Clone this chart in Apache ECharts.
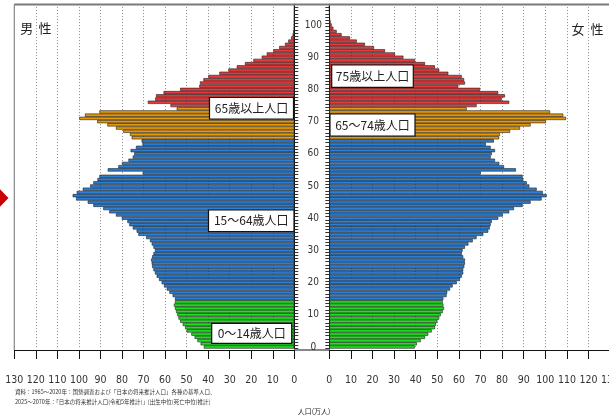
<!DOCTYPE html>
<html>
<head>
<meta charset="utf-8">
<script src="https://cdn.jsdelivr.net/npm/echarts@6/dist/echarts.min.js"></script>
<style>
  html, body { margin: 0; padding: 0; background: #fff; }
  #chart { width: 609px; height: 419px; }
</style>
</head>
<body>
<div id="chart"></div>
<script>
// 年齢 0〜106歳
const ages = []
for (let a = 0; a <= 106; a++) ages.push(String(a))

// 男性 (万人)
const male = [
  42.0, 43.5, 45.0, 46.3, 47.8, 50.0, 50.7, 51.8, 53.0, 53.8,
  54.3, 54.9, 55.4, 55.9, 55.4, 55.4, 56.5, 58.0, 59.2, 60.5,
  61.6, 62.8, 63.9, 64.7, 65.4, 66.0, 66.2, 66.5, 66.0, 65.4,
  64.7, 65.4, 66.2, 67.0, 68.8, 72.4, 73.2, 75.0, 76.6, 77.5,
  80.1, 82.8, 85.9, 88.7, 93.3, 95.9, 101.3, 102.9, 101.0, 98.2,
  94.8, 93.3, 91.4, 90.5, 70.4, 86.6, 81.7, 80.0, 77.0, 75.0,
  74.3, 76.0, 73.5, 70.5, 70.9, 75.5, 76.3, 79.4, 82.8, 86.8,
  91.5, 99.8, 97.2, 90.5, 54.6, 57.5, 68.0, 64.6, 64.2, 60.7,
  53.0, 44.1, 43.8, 42.2, 39.9, 34.8, 30.6, 26.7, 22.9, 19.0,
  15.1, 12.8, 9.7, 7.0, 4.3, 2.8, 1.5, 0.8, 0.5, 0.3,
  0.2, 0.15, 0.1, 0.05, 0.03, 0.02, 0
]

// 女性 (万人)
const female = [
  39.5, 40.5, 42.3, 44.3, 45.8, 47.4, 48.9, 49.4, 50.0, 50.9,
  51.6, 52.5, 53.1, 52.8, 52.5, 52.8, 54.3, 54.6, 55.9, 57.1,
  59.0, 60.5, 61.3, 62.0, 62.0, 62.5, 62.8, 62.8, 62.0, 61.3,
  61.7, 62.8, 64.4, 66.4, 68.2, 71.3, 73.6, 74.3, 74.7, 75.2,
  78.2, 80.3, 83.3, 85.5, 89.5, 93.2, 98.3, 100.6, 98.8, 96.0,
  92.6, 91.4, 89.8, 89.5, 70.1, 86.4, 80.9, 78.7, 76.7, 74.7,
  75.2, 76.7, 74.7, 72.5, 76.2, 78.6, 79.0, 83.7, 88.3, 93.2,
  100.3, 109.6, 108.3, 102.2, 63.6, 68.2, 83.3, 79.8, 81.3, 78.2,
  69.8, 59.7, 62.8, 62.4, 61.3, 55.1, 50.9, 48.9, 44.3, 39.7,
  34.3, 30.4, 25.8, 20.7, 16.5, 12.7, 9.6, 5.7, 3.4, 1.9,
  1.1, 0.6, 0.3, 0.15, 0.08, 0.04, 0
]

const groupColors = { young: '#20de20', work: '#2b7fd6', old1: '#e69a08', old2: '#e63a3c' }
function colorFor(age) {
  if (age < 15) return groupColors.young
  if (age < 65) return groupColors.work
  if (age < 75) return groupColors.old1
  return groupColors.old2
}

const numFont = "'Liberation Sans Narrow', 'DejaVu Sans Condensed', 'Liberation Sans', sans-serif"
const jpFont = "'Noto Sans CJK JP', sans-serif"

const plotTop = 4.1
const plotH = 344.5

function xAxisFor(gridIndex, inverse) {
  return {
    type: 'value', gridIndex: gridIndex, min: 0, max: 130, interval: 10, inverse: inverse,
    offset: 1.4,
    axisLine: { show: true, lineStyle: { color: '#111', width: 1 } },
    axisTick: { show: true, length: 9, lineStyle: { color: '#111' } },
    axisLabel: { margin: 25, fontSize: 10.5, color: '#333', fontFamily: numFont, showMinLabel: true, showMaxLabel: true, hideOverlap: false },
    splitLine: { show: true, lineStyle: { color: '#8a8a8a', type: [1, 2], width: 1 } }
  }
}

function barsFor(values, axisIndex) {
  return {
    type: 'bar', xAxisIndex: axisIndex, yAxisIndex: axisIndex,
    barWidth: '100%', silent: true,
    itemStyle: { borderColor: '#1c1c1c', borderWidth: 0.6 },
    data: values.map((v, i) => ({ value: v, itemStyle: { color: colorFor(i) } }))
  }
}

function labelBox(text, x, y, w, h) {
  return {
    type: 'group',
    children: [
      { type: 'rect', shape: { x: x, y: y, width: w, height: h }, style: { fill: '#fff', stroke: '#111', lineWidth: 1.2 }, z: 10 },
      { type: 'text', x: x + w / 2, y: y + h / 2, z: 11,
        style: { text: text, font: '12px ' + jpFont, fill: '#222', align: 'center', verticalAlign: 'middle' } }
    ]
  }
}

const chart = echarts.init(document.getElementById('chart'))
chart.setOption({
  animation: false,
  grid: [
    { left: 14.3, top: plotTop, width: 280, height: plotH, outerBoundsMode: 'none', containLabel: false },
    { left: 329.3, top: plotTop, width: 280.8, height: plotH, outerBoundsMode: 'none', containLabel: false }
  ],
  xAxis: [xAxisFor(0, true), xAxisFor(1, false)],
  yAxis: [
    {
      type: 'category', gridIndex: 0, data: ages, position: 'right',
      axisLine: { show: true, lineStyle: { color: '#111' } },
      axisTick: { show: true, interval: 0, length: 4, lineStyle: { color: '#333' } },
      axisLabel: { show: false }
    },
    {
      type: 'category', gridIndex: 1, data: ages, position: 'left',
      axisLine: { show: true, lineStyle: { color: '#111' } },
      axisTick: { show: true, interval: 0, length: 4, lineStyle: { color: '#333' } },
      axisLabel: { interval: 9, margin: 16, align: 'center', fontSize: 10, color: '#333', fontFamily: numFont }
    }
  ],
  series: [barsFor(male, 0), barsFor(female, 1)],
  graphic: [
    // 枠線
    { type: 'line', shape: { x1: 14.3, y1: 4.5, x2: 609, y2: 4.5 }, style: { stroke: '#7a7a7a', lineWidth: 2 }, z: 5 },
    { type: 'line', shape: { x1: 14.3, y1: 4.5, x2: 14.3, y2: 350 }, style: { stroke: '#8a8a8a', lineWidth: 1.2 }, z: 5 },
    { type: 'line', shape: { x1: 294, y1: 350, x2: 330, y2: 350 }, style: { stroke: '#111', lineWidth: 1 }, z: 5 },
    // 左端の赤い矢印
    { type: 'polygon', shape: { points: [[-14, 198], [-3, 186], [8.5, 198], [-3, 210]] }, style: { fill: '#cc0000' }, z: 5 },
    { type: 'text', x: 26.7, y: 28, style: { text: '男', font: '13px ' + jpFont, fill: '#222', align: 'center', verticalAlign: 'middle' } },
    { type: 'text', x: 45, y: 28, style: { text: '性', font: '13px ' + jpFont, fill: '#222', align: 'center', verticalAlign: 'middle' } },
    { type: 'text', x: 578, y: 29, style: { text: '女', font: '13px ' + jpFont, fill: '#222', align: 'center', verticalAlign: 'middle' } },
    { type: 'text', x: 597, y: 29, style: { text: '性', font: '13px ' + jpFont, fill: '#222', align: 'center', verticalAlign: 'middle' } },
    labelBox('65歳以上人口', 209.5, 97.5, 84, 21.5),
    labelBox('15～64歳人口', 208.5, 210, 85.5, 21.5),
    labelBox('0～14歳人口', 211.7, 323.3, 80, 20),
    labelBox('75歳以上人口', 331.7, 65, 81.6, 22.3),
    labelBox('65～74歳人口', 330, 114, 85, 22),
    { type: 'text', x: 15, y: 392, style: { text: '資料：1965～2020年：国勢調査および「日本の将来推計人口」各種の基準人口、', font: '5.5px ' + jpFont, fill: '#333', verticalAlign: 'middle' } },
    { type: 'text', x: 15, y: 402, style: { text: '2025～2070年：「日本の将来推計人口(令和5年推計)」[出生中位(死亡中位)推計]', font: '5.5px ' + jpFont, fill: '#333', verticalAlign: 'middle' } },
    { type: 'text', x: 314, y: 411, style: { text: '人口(万人)', font: '7px ' + jpFont, fill: '#222', align: 'center', verticalAlign: 'middle' } }
  ]
})
</script>
</body>
</html>
